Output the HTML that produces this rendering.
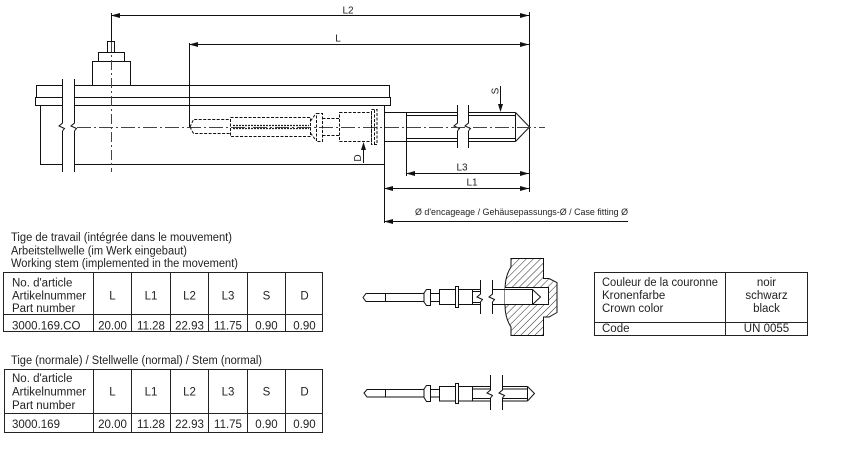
<!DOCTYPE html>
<html><head><meta charset="utf-8"><style>
html,body{margin:0;padding:0;background:#fff;}
svg{display:block;}
text{font-family:"Liberation Sans",Arial,sans-serif;fill:#222;}
</style></head><body>
<svg xmlns="http://www.w3.org/2000/svg" width="859" height="460" viewBox="0 0 859 460">
<defs>
<pattern id="h" width="5" height="5" patternUnits="userSpaceOnUse" patternTransform="rotate(45)">
<line x1="0" y1="0" x2="0" y2="5" stroke="#111" stroke-width="0.9"/>
</pattern>
</defs>
<rect width="859" height="460" fill="#fff"/>

<!-- MAIN DRAWING -->
<g stroke="#111" stroke-width="1" fill="none">
  <rect x="92.5" y="61.5" width="38" height="24"/>
  <rect x="98.5" y="52.5" width="26" height="9"/>
  <rect x="107.5" y="41.5" width="7" height="11"/>
  <line x1="111.5" y1="13" x2="111.5" y2="41"/>
  <path d="M62,85.5 H36.5 V97.5 M74,85.5 H389.5 V97.5"/>
  <path d="M62,97.5 H35.5 V105.5 H62 M74,97.5 H390.5 V105.5 H74"/>
  <path d="M40.5,105.5 V164.5 H62 M74,164.5 H384.5 M384.5,105.5 V223"/>
  <path d="M62.5,79 V123 L59,126 L64.5,128.5 L62.5,131 V172"/>
  <path d="M74.5,79 V123 L71,126 L76.5,128.5 L74.5,131 V172"/>
  <line x1="189.5" y1="43" x2="189.5" y2="127"/>
  <line x1="111" y1="15.5" x2="529" y2="15.5"/>
  <line x1="189" y1="44.5" x2="529" y2="44.5"/>
  <line x1="529.5" y1="12" x2="529.5" y2="192"/>
  <path d="M384,112.5 H457.5 M468.5,112.5 H515.5 M384,141.5 H457.5 M468.5,141.5 H515.5"/>
  <path d="M406,115.5 H457.5 M468.5,115.5 H515.5 M406,138.5 H457.5 M468.5,138.5 H515.5"/>
  <line x1="406.5" y1="112" x2="406.5" y2="176"/>
  <path d="M515.5,112.5 V141.5 M515.5,112.5 L529.5,127 L515.5,141.5"/>
  <path d="M457.5,105 V123 L454,126 L459.5,128.5 L457.5,131 V148"/>
  <path d="M468.5,105 V123 L465,126 L470.5,128.5 L468.5,131 V148"/>
  <line x1="500.5" y1="86" x2="500.5" y2="105"/>
  <line x1="406" y1="173.5" x2="529" y2="173.5"/>
  <line x1="384" y1="188.5" x2="529" y2="188.5"/>
  <line x1="384" y1="221.5" x2="628" y2="221.5"/>
  <line x1="363.5" y1="149" x2="363.5" y2="163"/>
</g>
<g stroke="#444" stroke-width="1" fill="none">
  <line x1="77" y1="127.5" x2="545" y2="127.5" stroke-dasharray="14,3,2,3"/>
  <line x1="111.5" y1="42" x2="111.5" y2="172" stroke-dasharray="10,3,2,3"/>
</g>
<g stroke="#111" stroke-width="1" fill="none" stroke-dasharray="3,1.5">
  <path d="M190,127 L193.5,119.5 H230.5 M190,127 L193.5,133.5 H230.5"/>
  <rect x="230.5" y="117.5" width="80" height="19"/>
  <path d="M310.5,121 L316,113.5 M310.5,133 L316,140.5"/>
  <rect x="316.5" y="113.5" width="6" height="28"/>
  <path d="M322.5,118.5 H339 M322.5,135.5 H339"/>
  <rect x="339.5" y="112.5" width="32" height="29"/>
  <rect x="371.5" y="109.5" width="5.5" height="35"/>
  <line x1="374.5" y1="110" x2="374.5" y2="144"/>
</g>
<g stroke="#222" stroke-width="1.2" fill="none" stroke-dasharray="2,1">
  <line x1="233" y1="125.5" x2="309" y2="125.5"/>
  <line x1="233" y1="128.5" x2="309" y2="128.5"/>
</g>
<g fill="#111" stroke="none">
  <polygon points="111,15.5 120,13 120,18"/>
  <polygon points="529,15.5 520,13 520,18"/>
  <polygon points="189,44.5 198,42 198,47"/>
  <polygon points="529,44.5 520,42 520,47"/>
  <polygon points="406,173.5 415,171 415,176"/>
  <polygon points="529,173.5 520,171 520,176"/>
  <polygon points="384,188.5 393,186 393,191"/>
  <polygon points="529,188.5 520,186 520,191"/>
  <polygon points="384,221.5 393,219 393,224"/>
  <polygon points="500.5,112 498,104 503,104"/>
  <polygon points="363.5,142 361,150 366,150"/>
</g>
<g font-size="10">
  <text x="348" y="13.5" text-anchor="middle">L2</text>
  <text x="338" y="41.5" text-anchor="middle">L</text>
  <text x="462" y="170.5" text-anchor="middle">L3</text>
  <text x="472" y="185.5" text-anchor="middle">L1</text>
  <text transform="translate(498.5,91) rotate(-90)" text-anchor="middle">S</text>
  <text transform="translate(361,158) rotate(-90)" text-anchor="middle">D</text>
  <text x="415" y="215" font-size="9.5" textLength="213" lengthAdjust="spacingAndGlyphs">Ø d'encageage / Gehäusepassungs-Ø / Case fitting Ø</text>
</g>

<!-- SMALL DRAWING 1 -->
<g stroke="#111" stroke-width="1" fill="none">
  <path d="M511,258.5 H543.5 V278.5 H549 L557,282.5 V312.5 L549,317 H543.5 V335.5 H511 V327 Q505,318 505,305 V290 Q505,276 511,267 Z" fill="url(#h)"/>
  <rect x="505" y="287" width="43.5" height="17.5" fill="#fff" stroke="none"/>
  <path d="M505,287.5 H548.5 V304.5 H505"/>
  <path d="M363,297.5 L366,293.5 H385.5 V301.5 H366 Z"/>
  <path d="M385.5,293.5 H424 M385.5,301.5 H424"/>
  <path d="M424,293 L426.5,289.5 H430.5 V305.5 H426.5 L424,302 Z"/>
  <path d="M430.5,293.5 H439.5 M430.5,301.5 H439.5"/>
  <rect x="439.5" y="289.5" width="33" height="15"/>
  <rect x="455.5" y="286.5" width="3" height="21" fill="#fff"/>
  <path d="M472.5,289.5 H480.5 M472.5,304.5 H480.5 M472.5,291.5 H480.5 M472.5,302.5 H480.5"/>
  <path d="M480.5,280 V294 L477,297 L482.5,299.5 L480.5,302 V314"/>
  <path d="M492.5,280 V294 L489,297 L494.5,299.5 L492.5,302 V314"/>
  <path d="M492.5,289.5 H532.5 V304.5 H492.5 M532.5,289.5 L540.5,297 L532.5,304.5"/>
</g>

<!-- SMALL DRAWING 2 -->
<g stroke="#111" stroke-width="1" fill="none">
  <path d="M364,393 L367,389.5 H385.5 V397 H367 Z"/>
  <path d="M385.5,389.5 H424 M385.5,397 H424"/>
  <path d="M424,389 L426.5,385.5 H430.5 V401.5 H426.5 L424,397.5 Z"/>
  <path d="M430.5,389.5 H439.5 M430.5,397 H439.5"/>
  <rect x="439.5" y="386.5" width="33" height="14.5"/>
  <rect x="455.5" y="383.5" width="3" height="20" fill="#fff"/>
  <path d="M472.5,386.5 H490.5 M472.5,401 H490.5 M472.5,389 H490.5 M472.5,398.5 H490.5"/>
  <path d="M490.5,375 V390 L487,393 L492.5,395.5 L490.5,398 V410"/>
  <path d="M502.5,375 V390 L499,393 L504.5,395.5 L502.5,398 V410"/>
  <path d="M502.5,386.5 H527.5 M502.5,401 H527.5 M502.5,389 H527.5 M502.5,398.5 H527.5"/>
  <path d="M527.5,386.5 V401 M527.5,386.5 L534.5,393.5 L527.5,401"/>
</g>

<!-- TABLE 1 -->
<g font-size="11.5">
  <text x="11" y="241" textLength="221" lengthAdjust="spacingAndGlyphs">Tige de travail (intégrée dans le mouvement)</text>
  <text x="11" y="254.5" textLength="176" lengthAdjust="spacingAndGlyphs">Arbeitstellwelle (im Werk eingebaut)</text>
  <text x="11" y="267" textLength="227" lengthAdjust="spacingAndGlyphs">Working stem (implemented in the movement)</text>
</g>
<g stroke="#222" stroke-width="1" fill="none" shape-rendering="crispEdges">
  <rect x="3.5" y="272.5" width="319" height="59"/>
  <line x1="3" y1="314.5" x2="323" y2="314.5"/>
  <line x1="93.5" y1="272" x2="93.5" y2="332"/>
  <line x1="131.5" y1="272" x2="131.5" y2="332"/>
  <line x1="170.5" y1="272" x2="170.5" y2="332"/>
  <line x1="208.5" y1="272" x2="208.5" y2="332"/>
  <line x1="247.5" y1="272" x2="247.5" y2="332"/>
  <line x1="285.5" y1="272" x2="285.5" y2="332"/>
</g>
<g font-size="11.5">
  <text x="12" y="286.5">No. d'article</text>
  <text x="12" y="299.5">Artikelnummer</text>
  <text x="12" y="312">Part number</text>
  <g text-anchor="middle">
    <text x="112.5" y="299.5">L</text>
    <text x="151" y="299.5">L1</text>
    <text x="189.5" y="299.5">L2</text>
    <text x="228" y="299.5">L3</text>
    <text x="266.5" y="299.5">S</text>
    <text x="304.5" y="299.5">D</text>
    <text x="112.5" y="329.5">20.00</text>
    <text x="151" y="329.5">11.28</text>
    <text x="189.5" y="329.5">22.93</text>
    <text x="228" y="329.5">11.75</text>
    <text x="266.5" y="329.5">0.90</text>
    <text x="304.5" y="329.5">0.90</text>
  </g>
  <text x="12" y="329.5">3000.169.CO</text>
</g>

<!-- TABLE 2 -->
<text x="11" y="364" font-size="11.5" textLength="251" lengthAdjust="spacingAndGlyphs">Tige (normale) / Stellwelle (normal) / Stem (normal)</text>
<g stroke="#222" stroke-width="1" fill="none" shape-rendering="crispEdges">
  <rect x="4.5" y="369.5" width="318" height="63"/>
  <line x1="4" y1="413.5" x2="323" y2="413.5"/>
  <line x1="93.5" y1="369" x2="93.5" y2="433"/>
  <line x1="131.5" y1="369" x2="131.5" y2="433"/>
  <line x1="170.5" y1="369" x2="170.5" y2="433"/>
  <line x1="208.5" y1="369" x2="208.5" y2="433"/>
  <line x1="247.5" y1="369" x2="247.5" y2="433"/>
  <line x1="285.5" y1="369" x2="285.5" y2="433"/>
</g>
<g font-size="11.5">
  <text x="12" y="382">No. d'article</text>
  <text x="12" y="395.5">Artikelnummer</text>
  <text x="12" y="409">Part number</text>
  <g text-anchor="middle">
    <text x="112.5" y="395.5">L</text>
    <text x="151" y="395.5">L1</text>
    <text x="189.5" y="395.5">L2</text>
    <text x="228" y="395.5">L3</text>
    <text x="266.5" y="395.5">S</text>
    <text x="304.5" y="395.5">D</text>
    <text x="112.5" y="428">20.00</text>
    <text x="151" y="428">11.28</text>
    <text x="189.5" y="428">22.93</text>
    <text x="228" y="428">11.75</text>
    <text x="266.5" y="428">0.90</text>
    <text x="304.5" y="428">0.90</text>
  </g>
  <text x="12" y="428">3000.169</text>
</g>

<!-- CROWN COLOR TABLE -->
<g stroke="#222" stroke-width="1" fill="none" shape-rendering="crispEdges">
  <rect x="594.5" y="272.5" width="213" height="63"/>
  <line x1="594" y1="322.5" x2="808" y2="322.5"/>
  <line x1="725.5" y1="272" x2="725.5" y2="336"/>
</g>
<g font-size="11.5">
  <text x="602" y="286" textLength="116" lengthAdjust="spacingAndGlyphs">Couleur de la couronne</text>
  <text x="602" y="299">Kronenfarbe</text>
  <text x="602" y="312">Crown color</text>
  <text x="602" y="332">Code</text>
  <g text-anchor="middle">
    <text x="766.5" y="286">noir</text>
    <text x="766.5" y="299">schwarz</text>
    <text x="766.5" y="312">black</text>
    <text x="766.5" y="332">UN 0055</text>
  </g>
</g>
</svg>
</body></html>
